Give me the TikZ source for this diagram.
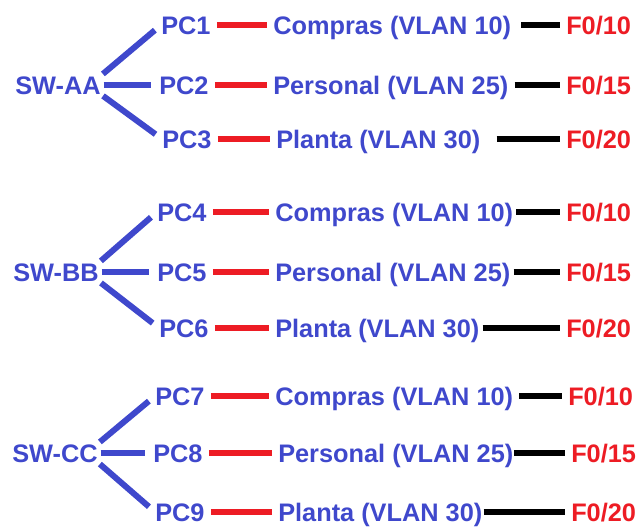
\documentclass[tikz,border=0pt]{standalone}
\usepackage{fontspec}
\setmainfont{Liberation Sans}
\definecolor{azul}{RGB}{63,72,204}
\definecolor{rojo}{RGB}{237,28,36}

\tikzset{
  texto/.style={anchor=west,inner sep=0pt,text height=13.6pt,text depth=0pt,
    font=\fontsize{19}{22}\selectfont\bfseries},
  equipo/.style={texto,text=azul},
  puerto/.style={texto,text=rojo},
  troncal/.style={azul,line width=4.5pt,shorten <=2pt,shorten >=6pt},
  acceso/.style={rojo,line width=4pt,shorten <=4.5pt,shorten >=4.5pt},
  cable/.style={black,line width=4pt,shorten >=4.5pt}
}

\begin{document}
\begin{tikzpicture}[x=0.75pt,y=-0.75pt]
\useasboundingbox (0,0) rectangle (637,527);
% switches
\node[equipo] (swa) at (15,85) {SW-AA};
\node[equipo] (swb) at (13,272) {SW-BB};
\node[equipo] (swc) at (12,453) {SW-CC};
% equipos de cada switch
\node[equipo] (pc1) at (161,25) {PC1};
\node[equipo] (pc2) at (159,85) {PC2};
\node[equipo] (pc3) at (162,139) {PC3};
\node[equipo] (pc4) at (157,212) {PC4};
\node[equipo] (pc5) at (157,272) {PC5};
\node[equipo] (pc6) at (159,328) {PC6};
\node[equipo] (pc7) at (155,396) {PC7};
\node[equipo] (pc8) at (153,453) {PC8};
\node[equipo] (pc9) at (155,512) {PC9};
% vlans
\node[equipo] (vlan1) at (273,25) {Compras (VLAN 10)};
\node[equipo] (vlan2) at (273,85) {Personal (VLAN 25)};
\node[equipo] (vlan3) at (276,139) {Planta (VLAN 30)};
\node[equipo] (vlan4) at (275,212) {Compras (VLAN 10)};
\node[equipo] (vlan5) at (275,272) {Personal (VLAN 25)};
\node[equipo] (vlan6) at (275,328) {Planta (VLAN 30)};
\node[equipo] (vlan7) at (275,396) {Compras (VLAN 10)};
\node[equipo] (vlan8) at (278,453) {Personal (VLAN 25)};
\node[equipo] (vlan9) at (278,512) {Planta (VLAN 30)};
% puertos
\node[puerto] (port1) at (566,25) {F0/10};
\node[puerto] (port2) at (566,85) {F0/15};
\node[puerto] (port3) at (566,139) {F0/20};
\node[puerto] (port4) at (566,212) {F0/10};
\node[puerto] (port5) at (566,272) {F0/15};
\node[puerto] (port6) at (566,328) {F0/20};
\node[puerto] (port7) at (568,396) {F0/10};
\node[puerto] (port8) at (571,453) {F0/15};
\node[puerto] (port9) at (571,512) {F0/20};

\foreach \s/\a/\b/\c in {swa/pc1/pc2/pc3,swb/pc4/pc5/pc6,swc/pc7/pc8/pc9}{
  \draw[troncal] (\s.north east) -- (\a.west);
  \draw[troncal] (\s.east) -- (\b.west);
  \draw[troncal] (\s.south east) -- (\c.west);
}
\foreach \i in {1,...,9}
  \draw[acceso] (pc\i.east) -- (vlan\i.west);
\foreach \i/\g in {1/7.5pt,2/4.5pt,3/12pt,4/2.25pt,5/2.25pt,6/2.25pt,7/4.5pt,8/0.5pt,9/0.75pt}
  \draw[cable,shorten <=\g] (vlan\i.east) -- (port\i.west);
\end{tikzpicture}
\end{document}
